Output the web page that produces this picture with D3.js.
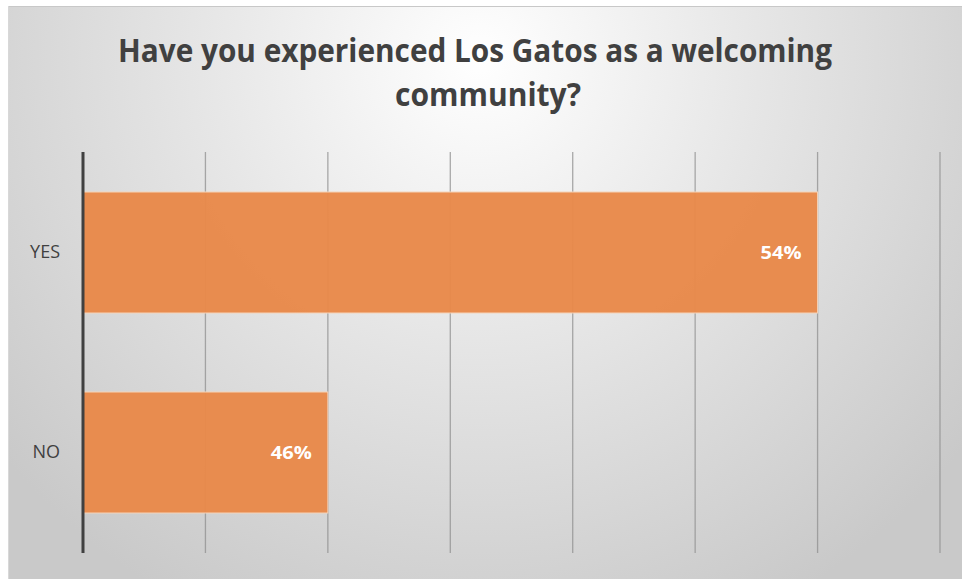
<!DOCTYPE html>
<html>
<head>
<meta charset="utf-8">
<script src="https://cdn.jsdelivr.net/npm/d3@7"></script>
<style>
  body { margin: 0; background: #fff; }
  svg { display: block; }
</style>
</head>
<body>
<svg id="chart" width="962" height="579"></svg>
<script>
// survey answers and share of respondents (%)
const categories = ["YES", "NO"];
const values = [54, 46];
const labels = ["54%", "46%"];
const titleLines = ["Have you experienced Los Gatos as a welcoming", "community?"];
const xTicks = [42, 44, 46, 48, 50, 52, 54, 56];

const svg = d3.select("#chart");
const W = 962, H = 579;

// background panel with a soft radial gradient
const defs = svg.append("defs");
const grad = defs.append("radialGradient")
  .attr("id", "bg")
  .attr("gradientUnits", "userSpaceOnUse")
  .attr("cx", 480).attr("cy", 60)
  .attr("r", 620);
grad.append("stop").attr("offset", "0%").attr("stop-color", "#ffffff");
grad.append("stop").attr("offset", "45%").attr("stop-color", "#e6e6e6");
grad.append("stop").attr("offset", "100%").attr("stop-color", "#c9c9c9");

svg.append("rect")
  .attr("x", 8).attr("y", 6)
  .attr("width", W - 8).attr("height", H - 6)
  .attr("fill", "url(#bg)");
svg.append("line")
  .attr("x1", 8).attr("x2", W).attr("y1", 6.5).attr("y2", 6.5)
  .attr("stroke", "#c8c8c8");
svg.append("line")
  .attr("x1", 8.5).attr("x2", 8.5).attr("y1", 6).attr("y2", H)
  .attr("stroke", "#d8d8d8");

const margin = { top: 152, left: 83, right: 22, bottom: 26 };
const x = d3.scaleLinear()
  .domain([42, 56])
  .range([margin.left, W - margin.right]);
const y = d3.scaleBand()
  .domain(categories)
  .range([margin.top, H - margin.bottom])
  .paddingInner(0.395)
  .paddingOuter(0.2);

// title, squeezed to the condensed width of the original
const titleWidths = [714, 186];
const titleCenters = [475, 488];
svg.append("g")
  .selectAll("text")
  .data(titleLines)
  .join("text")
  .attr("x", (d, i) => titleCenters[i])
  .attr("y", (d, i) => 62 + i * 44)
  .attr("text-anchor", "middle")
  .attr("font-family", "'Open Sans', sans-serif")
  .attr("font-weight", 700)
  .attr("font-size", 33)
  .attr("fill", "#404040")
  .attr("textLength", (d, i) => titleWidths[i])
  .attr("lengthAdjust", "spacingAndGlyphs")
  .text(d => d);

// vertical gridlines
svg.append("g")
  .selectAll("line")
  .data(xTicks.slice(1))
  .join("line")
  .attr("x1", d => x(d)).attr("x2", d => x(d))
  .attr("y1", margin.top).attr("y2", H - margin.bottom)
  .attr("stroke", "#8f8f8f")
  .attr("stroke-opacity", 0.75)
  .attr("stroke-width", 1.3);

// bars
svg.append("g")
  .selectAll("rect")
  .data(values)
  .join("rect")
  .attr("x", x(42))
  .attr("y", (d, i) => y(categories[i]))
  .attr("width", d => x(d) - x(42))
  .attr("height", y.bandwidth())
  .attr("fill", "#e8894a")
  .attr("fill-opacity", 0.97)
  .attr("stroke", "#f6d3b8")
  .attr("stroke-width", 1);

// value labels
svg.append("g")
  .selectAll("text")
  .data(values)
  .join("text")
  .attr("x", d => x(d) - 16)
  .attr("y", (d, i) => y(categories[i]) + y.bandwidth() / 2)
  .attr("dy", "0.35em")
  .attr("text-anchor", "end")
  .attr("font-family", "'Open Sans', sans-serif")
  .attr("font-weight", 700)
  .attr("font-size", 18)
  .attr("fill", "#ffffff")
  .attr("textLength", 41)
  .attr("lengthAdjust", "spacingAndGlyphs")
  .text((d, i) => labels[i]);

// y axis line and category labels
const yAxis = d3.axisLeft(y).tickSize(0).tickPadding(23);
const gy = svg.append("g")
  .attr("transform", `translate(${margin.left},0)`)
  .call(yAxis);
gy.select(".domain").remove();
gy.selectAll("text")
  .attr("font-family", "'Open Sans', sans-serif")
  .attr("font-size", 18)
  .attr("fill", "#404040");

svg.append("line")
  .attr("x1", margin.left).attr("x2", margin.left)
  .attr("y1", margin.top).attr("y2", H - margin.bottom)
  .attr("stroke", "#404040")
  .attr("stroke-width", 3);
</script>
</body>
</html>
